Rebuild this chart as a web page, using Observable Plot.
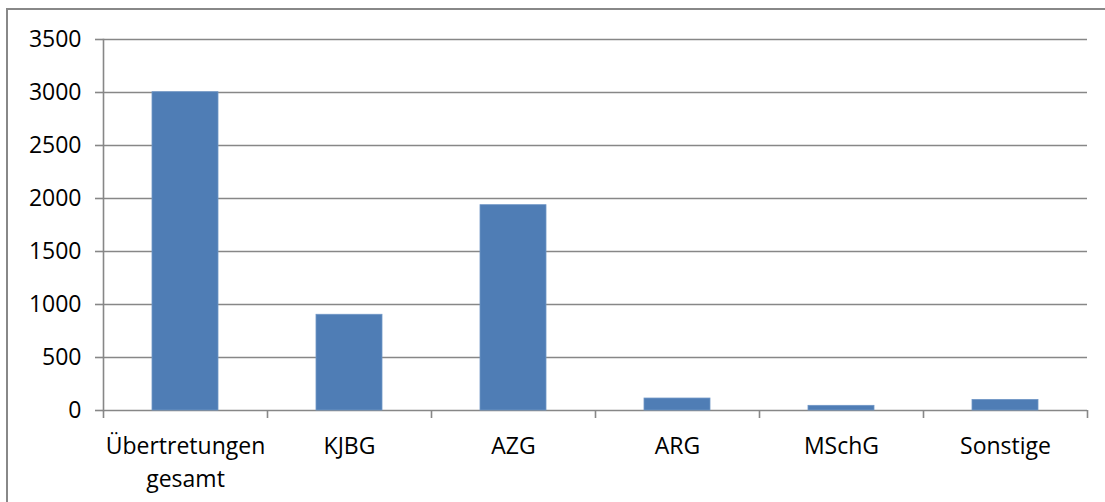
<!DOCTYPE html>
<html>
<head>
<meta charset="utf-8">
<script src="https://cdn.jsdelivr.net/npm/d3@7"></script>
<script src="https://cdn.jsdelivr.net/npm/@observablehq/plot@0.6"></script>
<style>
  html, body { margin: 0; padding: 0; background: #fff; overflow: hidden; width: 1105px; height: 502px; }
  #wrap { position: relative; width: 1105px; height: 502px; overflow: hidden; }
  #border { position: absolute; left: 6px; top: 8px; width: 1200px; height: 600px; border: 2px solid #888888; box-sizing: border-box; }
  #chart { position: absolute; left: 0; top: 0; }
</style>
</head>
<body>
<div id="wrap"><div id="border"></div><div id="chart"></div></div>
<script>
const categories = ["Übertretungen gesamt", "KJBG", "AZG", "ARG", "MSchG", "Sonstige"];
const tickLabels = ["Übertretungen\ngesamt", "KJBG", "AZG", "ARG", "MSchG", "Sonstige"];
const values = [3003, 903, 1937, 113, 44, 100];
const yTicks = [0, 500, 1000, 1500, 2000, 2500, 3000, 3500];

const data = categories.map((c, i) => ({category: c, value: values[i]}));

const W = 1105, H = 502;
const mL = 103, mR = 18, mT = 39, mB = 92;
const halfStep = (W - mL - mR) / categories.length / 2;
const grey = "#878787";

const chart = Plot.plot({
  width: W,
  height: H,
  marginLeft: mL,
  marginRight: mR,
  marginTop: mT,
  marginBottom: mB,
  style: {fontFamily: "'Open Sans', sans-serif", fontSize: "23px", color: "#000", background: "transparent"},
  x: {domain: categories, paddingInner: 0.6, paddingOuter: 0.3, label: null},
  y: {domain: [0, 3500], label: null},
  marks: [
    Plot.ruleY(yTicks, {stroke: grey, strokeWidth: 1.6, strokeOpacity: 1}),
    Plot.frame({anchor: "left", stroke: grey, strokeWidth: 1.6}),
    Plot.axisY({ticks: yTicks, tickFormat: (d) => String(d), tickSize: 8, tickPadding: 14, stroke: grey, strokeWidth: 1.6, strokeOpacity: 1, fill: "#000", fontSize: 23, label: null}),
    Plot.axisX({tickSize: 0, tickPadding: 21, fill: "#000", fontSize: 23, lineHeight: 1.4, label: null,
      tickFormat: (d) => tickLabels[categories.indexOf(d)]}),
    Plot.ruleX(categories, {x: (d) => d, y1: 0, y2: 0, insetBottom: -8, dx: -halfStep, stroke: grey, strokeWidth: 1.6}),
    Plot.ruleX(categories.slice(-1), {x: (d) => d, y1: 0, y2: 0, insetBottom: -8, dx: halfStep, stroke: grey, strokeWidth: 1.6}),
    Plot.barY(data, {x: "category", y: "value", fill: "#4F7DB5", stroke: "#6F96C6", strokeWidth: 0.8})
  ]
});
document.getElementById("chart").appendChild(chart);
</script>
</body>
</html>
